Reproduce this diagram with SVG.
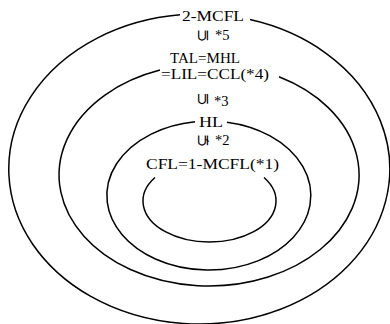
<svg xmlns="http://www.w3.org/2000/svg" width="390" height="324" viewBox="0 0 390 324">
<style>
.ring{fill:none;stroke:#000;stroke-width:1.5}
.lbl{font-family:"Liberation Serif","DejaVu Serif",serif;font-size:14.5px;fill:#000}
.sym{font-family:"DejaVu Sans",sans-serif;font-size:16px;fill:#000}
</style>
<rect width="390" height="324" fill="#fff"/>
<g id="connectors"></g>
<g id="node-2mcfl">
<path class="ring" d="M 180 14.8 A 190.5 155 0 1 0 250 19.6"/>
<text class="lbl" x="182" y="20.5" textLength="62" lengthAdjust="spacingAndGlyphs">2-MCFL</text>
</g>
<g id="rel-5">
<text class="sym" transform="translate(202,35.5) rotate(-90)" text-anchor="middle" dominant-baseline="central">⊆</text>
<text class="lbl" x="215" y="40">*5</text>
</g>
<g id="node-tal">
<path class="ring" d="M 160 70.1 A 150 111 0 1 0 279 76.8"/>
<text class="lbl" x="170" y="63" textLength="70" lengthAdjust="spacingAndGlyphs">TAL=MHL</text>
<text class="lbl" x="161" y="78.5" textLength="108" lengthAdjust="spacingAndGlyphs">=LIL=CCL(*4)</text>
</g>
<g id="rel-3">
<text class="sym" transform="translate(202,99) rotate(-90)" text-anchor="middle" dominant-baseline="central">⊆</text>
<text class="lbl" x="214" y="106">*3</text>
</g>
<g id="node-hl">
<path class="ring" d="M 195 121.7 A 102 74.5 0 1 0 227 122.2"/>
<text class="lbl" x="199" y="127" textLength="24" lengthAdjust="spacingAndGlyphs">HL</text>
</g>
<g id="rel-2">
<text class="sym" transform="translate(202,140.5) rotate(-90)" text-anchor="middle" dominant-baseline="central">⊊</text>
<text class="lbl" x="215" y="145">*2</text>
</g>
<g id="node-cfl">
<path class="ring" d="M 155 177.5 A 66.5 41 0 1 0 264 177.5"/>
<text class="lbl" x="146" y="168.5" textLength="133" lengthAdjust="spacingAndGlyphs">CFL=1-MCFL(*1)</text>
</g>
</svg>
